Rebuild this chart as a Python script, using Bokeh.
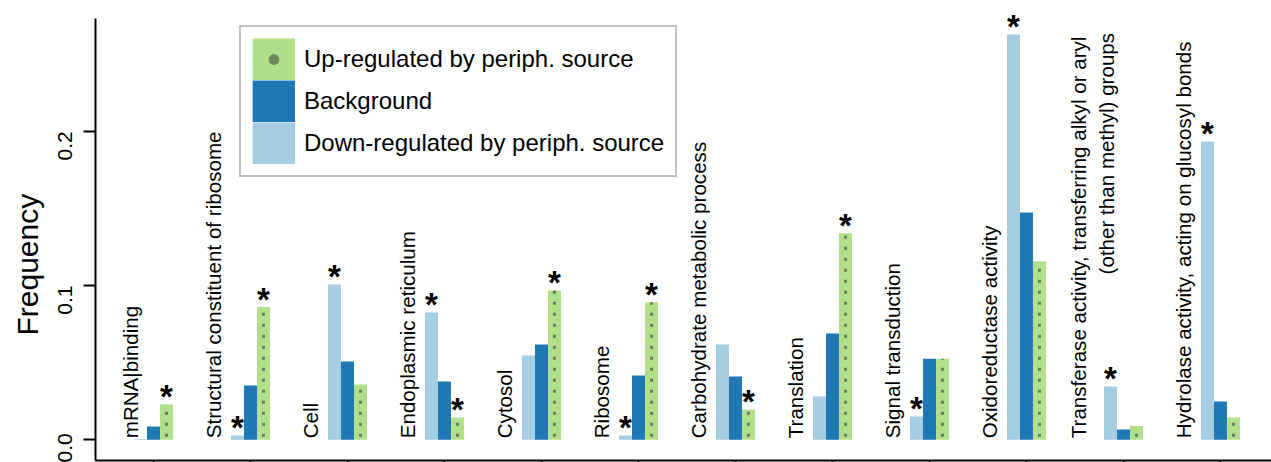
import math
from bokeh.plotting import figure
from bokeh.models import (Range1d, FixedTicker, Legend, LegendItem, Title,
                          ColumnDataSource, CustomLabelingPolicy)
from bokeh.core.properties import value
from bokeh.embed import file_html
from bokeh.resources import INLINE

# GO categories (second line of a label after "\n")
categories = [
    "mRNA|binding",
    "Structural constituent of ribosome",
    "Cell",
    "Endoplasmic reticulum",
    "Cytosol",
    "Ribosome",
    "Carbohydrate metabolic process",
    "Translation",
    "Signal transduction",
    "Oxidoreductase activity",
    "Transferase activity, transferring alkyl or aryl\n(other than methyl) groups",
    "Hydrolase activity, acting on glucosyl bonds",
]

# frequencies per group
down_reg = [0.0006, 0.0028, 0.1007, 0.0825, 0.0546, 0.0028, 0.0618, 0.0281,
            0.0151, 0.2627, 0.0345, 0.1933]
background = [0.0086, 0.0352, 0.0507, 0.0378, 0.0618, 0.0417, 0.0410, 0.0689,
              0.0525, 0.1473, 0.0067, 0.0248]
up_reg = [0.0229, 0.0860, 0.0358, 0.0144, 0.0968, 0.0892, 0.0196, 0.1339,
          0.0525, 0.1157, 0.0090, 0.0145]

# significance flags (asterisks)
down_sig = [0, 1, 1, 1, 0, 1, 0, 0, 1, 1, 1, 1]
up_sig = [1, 1, 0, 1, 1, 1, 1, 1, 0, 0, 0, 0]

y_ticks = [0.0, 0.1, 0.2]
y_tick_labels = ["0.0", "0.1", "0.2"]

C_DOWN = "#a6cee3"
C_BG = "#1f78b4"
C_UP = "#b2df8a"
C_DOT = "#6e7b64"
C_LEGEND_DOT = "#6d865c"
FONT = "Liberation Sans"

n = len(categories)
idx = list(range(n))
bw = 0.134

Y_MIN, Y_AXIS_TOP, Y_MAX = -0.0134, 0.2730, 0.2847

# the frame reaches the top of the canvas so the tallest asterisk is not clipped;
# the axis line itself stops a little lower
p = figure(width=1271, height=462, output_backend="svg", toolbar_location=None,
           x_range=Range1d(-0.598, 11.526), y_range=Range1d(Y_MIN, Y_MAX),
           min_border_left=95, min_border_right=0, min_border_top=0,
           min_border_bottom=0)
p.outline_line_color = None
p.xgrid.grid_line_color = None
p.ygrid.grid_line_color = None
p.background_fill_color = "white"
p.border_fill_color = "white"

# y axis
p.yaxis.bounds = (Y_MIN, Y_AXIS_TOP)
p.yaxis.ticker = FixedTicker(ticks=y_ticks)
p.yaxis.major_label_overrides = {t: s for t, s in zip(y_ticks, y_tick_labels)}
p.yaxis.major_label_orientation = math.pi / 2
p.yaxis.major_label_text_font = FONT
p.yaxis.major_label_text_font_size = "21px"
p.yaxis.major_label_text_color = "black"
p.yaxis.major_label_standoff = 18
p.yaxis.axis_line_width = 2
p.yaxis.major_tick_line_width = 2
p.yaxis.major_tick_out = 12
p.yaxis.major_tick_in = 0
p.yaxis.minor_tick_line_color = None

# x axis: tick marks only, category names are drawn inside the plot
p.xaxis.ticker = FixedTicker(ticks=idx)
p.xaxis.major_label_policy = CustomLabelingPolicy(code="return []")
p.xaxis.major_label_text_font_size = "0px"
p.xaxis.major_label_standoff = 0
p.xaxis.axis_line_width = 2
p.xaxis.major_tick_line_width = 2
p.xaxis.major_tick_out = 2
p.xaxis.major_tick_in = 0
p.xaxis.minor_tick_line_color = None

p.add_layout(Title(text="Frequency", align="left", offset=125,
                   text_font=FONT, text_font_size="30px",
                   text_font_style="normal", text_color="black"), "left")

src = ColumnDataSource(dict(
    x=idx,
    x_down=[i - bw for i in idx],
    x_up=[i + bw for i in idx],
    down=down_reg, bg=background, up=up_reg,
))

r_down = p.vbar(x="x_down", top="down", width=bw, bottom=0, source=src,
                fill_color=C_DOWN, line_color=None)
r_bg = p.vbar(x="x", top="bg", width=bw, bottom=0, source=src,
              fill_color=C_BG, line_color=None)
r_up = p.vbar(x="x_up", top="up", width=bw, bottom=0, source=src,
              fill_color=C_UP, line_color=None)

# dotted fill down the middle of the up-regulated bars
p.segment(x0="x_up", y0=0, x1="x_up", y1="up", source=src,
          line_color=C_DOT, line_width=3, line_dash="3 8", line_dash_offset=8,
          line_cap="butt")

# significance asterisks
star_x = [i - bw for i in idx if down_sig[i]] + [i + bw for i in idx if up_sig[i]]
star_y = [down_reg[i] for i in idx if down_sig[i]] + [up_reg[i] for i in idx if up_sig[i]]
p.text(x=star_x, y=star_y, text=["*"] * len(star_x), text_font=value(FONT),
       text_font_style="bold", text_font_size="33px", text_align="center",
       text_baseline="alphabetic", y_offset=-8, text_color="black")

# rotated category labels
first_lines = [c.split("\n")[0] for c in categories]
label_dx = [-0.385] * n
label_dx[0] = -0.24
label_dx[10] = -0.459
p.text(x=[i + d for i, d in zip(idx, label_dx)], y=[0.001] * n, text=first_lines,
       angle=math.pi / 2, text_font=value(FONT), text_font_size="20.6px",
       text_align="left", text_baseline="middle", text_color="black")

second = [(i, c.split("\n")[1]) for i, c in enumerate(categories) if "\n" in c]
p.text(x=[i - 0.175 for i, _ in second], y=[0.2637] * len(second),
       text=[s for _, s in second], angle=math.pi / 2, text_font=value(FONT),
       text_font_size="20.6px", text_align="right", text_baseline="middle",
       text_color="black")

# legend swatches: hidden copies with a thick outline so that the swatches touch
def swatch(xcol, ycol, color):
    return p.vbar(x=xcol, top=ycol, width=bw, bottom=0, source=src,
                  fill_color=color, line_color=color, line_width=8.4,
                  line_join="miter", visible=False)

sw_up = swatch("x_up", "up", C_UP)
sw_bg = swatch("x", "bg", C_BG)
sw_down = swatch("x_down", "down", C_DOWN)
sw_dot = p.scatter(x="x_up", y="up", source=src, marker="circle",
                   fill_color=C_LEGEND_DOT, line_color=C_UP, line_width=6,
                   visible=False)

legend = Legend(items=[
    LegendItem(label="Up-regulated by periph. source", renderers=[sw_up, sw_dot]),
    LegendItem(label="Background", renderers=[sw_bg]),
    LegendItem(label="Down-regulated by periph. source", renderers=[sw_down]),
], location=(144, 283), glyph_width=43, glyph_height=42, label_height=42,
   spacing=0, padding=11, margin=0, label_standoff=9,
   label_text_font=FONT, label_text_font_size="24px", label_text_color="black",
   border_line_color="#808080", border_line_width=2,
   background_fill_color="white", background_fill_alpha=1.0,
   inactive_fill_alpha=0.0)
p.add_layout(legend, "center")

open("out.html", "w").write(file_html(p, INLINE))
